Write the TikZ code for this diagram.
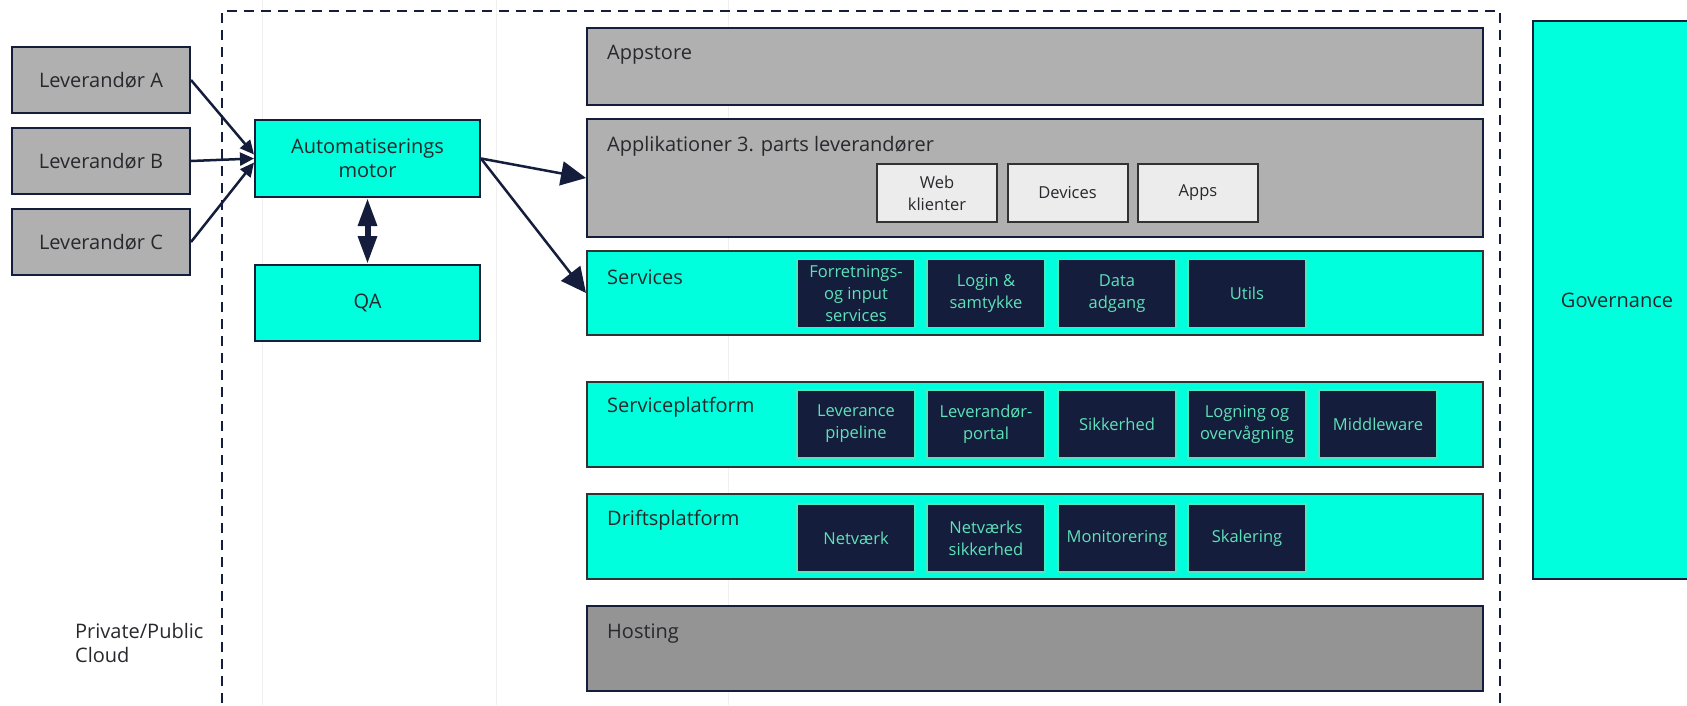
\documentclass[tikz,border=0pt]{standalone}
\usepackage{fontspec}
\setmainfont{Open Sans}
\usetikzlibrary{arrows.meta}
\definecolor{navy}{RGB}{20,30,60}
\definecolor{aqua}{RGB}{0,255,220}
\definecolor{greyA}{RGB}{176,176,176}
\definecolor{greyH}{RGB}{148,148,148}
\definecolor{greyL}{RGB}{236,236,236}
\definecolor{edge}{RGB}{50,50,50}
\definecolor{txt}{RGB}{40,40,45}
\definecolor{mint}{RGB}{95,225,185}
\definecolor{gridc}{RGB}{240,240,240}
\begin{document}
\begin{tikzpicture}[x=1pt,y=-1pt]
\tikzstyle{every node}+=[inner sep=0pt, text=txt, font=\fontsize{20}{24}\selectfont]
\tikzstyle{lev}=[draw=navy, line width=2pt, fill=greyA, minimum width=178pt, minimum height=66pt]
\tikzstyle{motor}=[draw=navy, line width=2pt, fill=aqua, minimum width=225pt, minimum height=77pt, align=center]
\tikzstyle{layer}=[line width=2pt, minimum width=896pt]
\tikzstyle{lbl}=[anchor=west]
\tikzstyle{appbox}=[draw=edge, line width=2pt, fill=greyL, minimum width=120pt, minimum height=58pt, align=center, font=\fontsize{16.5}{22}\selectfont]
\tikzstyle{svc}=[draw=mint!80!aqua, line width=1.5pt, fill=navy, text=mint, minimum width=118pt, minimum height=68pt, align=center, font=\fontsize{16.5}{22}\selectfont]
\tikzstyle{arr}=[draw=navy, line width=2.5pt, -{Triangle[length=25pt,width=24pt]}]
\tikzstyle{arrs}=[draw=navy, line width=2.5pt, -{Triangle[length=14pt,width=13pt]}]
\useasboundingbox (0,0) rectangle (1687,705);
\fill[white] (0,0) rectangle (1687,705);
\draw[gridc, line width=1pt] (262,0) -- (262,705);
\draw[gridc, line width=1pt] (496,0) -- (496,705);
\draw[gridc, line width=1pt] (728,0) -- (728,705);
\draw[navy, line width=2.5pt, dash pattern=on 10pt off 7pt] (222,720) -- (222,11) -- (1500,11) -- (1500,720);

\node[lev] (levA) at (101,80) {Leverandør A};
\node[lev] (levB) at (101,161) {Leverandør B};
\node[lev] (levC) at (101,242) {Leverandør C};
\node[motor] (auto) at (367.5,158.5) {Automatiserings\\motor};
\node[motor, minimum height=76pt] (qa) at (367.5,303) {QA};

\node[layer, draw=navy, fill=greyA, minimum height=77pt] (appstore) at (1035,66.5) {};
\node[layer, draw=navy, fill=greyA, minimum height=118pt] (applik) at (1035,178) {};
\node[layer, draw=edge, fill=aqua, minimum height=84pt] (services) at (1035,293) {};
\node[layer, draw=edge, fill=aqua, minimum height=85pt] (svcplat) at (1035,424.5) {};
\node[layer, draw=edge, fill=aqua, minimum height=85pt] (drift) at (1035,536.5) {};
\node[layer, draw=navy, fill=greyH, minimum height=85pt] (hosting) at (1035,648.5) {};

\node[lbl] (appstorelbl) at ([xshift=21pt,yshift=-28pt]appstore.north west) {Appstore};
\node[lbl] (appliklbl) at ([xshift=21pt,yshift=-28pt]applik.north west) {Applikationer 3. parts leverandører};
\node[lbl] (serviceslbl) at ([xshift=21pt,yshift=-27pt]services.north west) {Services};
\node[lbl] (svcplatlbl) at ([xshift=21pt,yshift=-26pt]svcplat.north west) {Serviceplatform};
\node[lbl] (driftlbl) at ([xshift=21pt,yshift=-27pt]drift.north west) {Driftsplatform};
\node[lbl] (hostinglbl) at ([xshift=21pt,yshift=-29pt]hosting.north west) {Hosting};

\node[appbox] (web) at (937,193) {Web\\klienter};
\node[appbox] (devices) at (1067.5,193) {Devices};
\node[appbox] (apps) at (1198,193) {Apps};

\node[svc] (forr) at (856,293.5) {Forretnings-\\og input\\services};
\node[svc] (login) at (986,293.5) {Login \&\\samtykke};
\node[svc] (data) at (1117,293.5) {Data\\adgang};
\node[svc] (utils) at (1247,293.5) {Utils};

\node[svc] (pipeline) at (856,424) {Leverance\\pipeline};
\node[svc] (portal) at (986,424) {Leverandør-\\portal};
\node[svc] (sikkerhed) at (1117,424) {Sikkerhed};
\node[svc] (logning) at (1247,424) {Logning og\\overvågning};
\node[svc] (middleware) at (1378,424) {Middleware};

\node[svc] (netvaerk) at (856,538) {Netværk};
\node[svc] (netsik) at (986,538) {Netværks\\sikkerhed};
\node[svc] (monitor) at (1117,538) {Monitorering};
\node[svc] (skalering) at (1247,538) {Skalering};

\node[draw=navy, line width=2pt, fill=aqua, minimum width=168pt, minimum height=558pt] (gov) at (1617,300) {Governance};

\node[anchor=west, align=left] (cloud) at (75,643) {Private/Public\\Cloud};

\draw[arrs] (levA.east) -- ([yshift=4pt]auto.west);
\draw[arrs] (levB.east) -- (auto.west);
\draw[arrs] (levC.east) -- ([yshift=-4pt]auto.west);
\draw[arr] (auto.east) -- (applik.west);
\draw[arr] (auto.east) -- (services.west);
\draw[navy, line width=6pt, {Triangle[length=28pt,width=18pt]}-{Triangle[length=28pt,width=18pt]}] (auto.south) -- (qa.north);
\end{tikzpicture}
\end{document}
